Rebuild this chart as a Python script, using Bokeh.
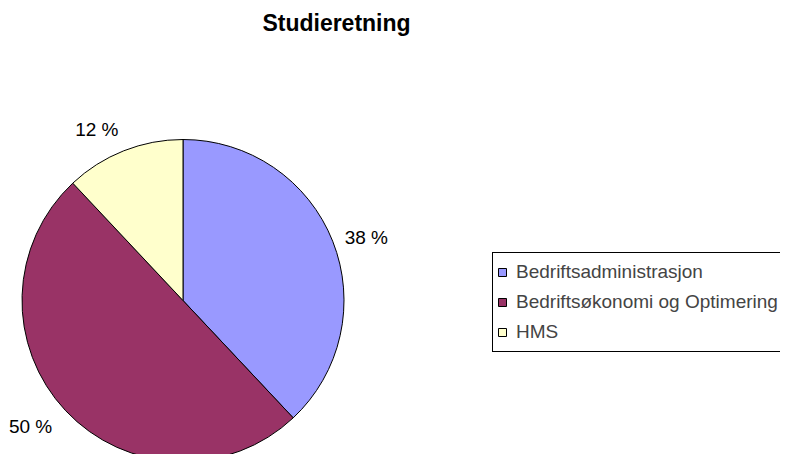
import math
from bokeh.plotting import figure
from bokeh.models import Range1d, Legend, LegendItem, Label, ColumnDataSource
from bokeh.core.properties import value
from bokeh.embed import file_html
from bokeh.resources import INLINE

# Data
categories = ["Bedriftsadministrasjon", "Bedriftsøkonomi og Optimering", "HMS"]
shares = [38, 50, 12]
colors = ["#9999FF", "#993366", "#FFFFCC"]
title_text = "Studieretning"

W, H = 780, 454
p = figure(width=W, height=H, output_backend="svg", toolbar_location=None,
           x_range=Range1d(0, W), y_range=Range1d(-H, 0),
           min_border=0)
p.axis.visible = False
p.grid.visible = False
p.outline_line_color = None
p.background_fill_color = "white"
p.border_fill_color = "white"

cx, cy, r = 182.5, -300.0, 161.0
total = float(sum(shares))
starts, ends = [], []
lx, ly, la, labels = [], [], [], []
cum = 0.0
for s in shares:
    a0 = math.pi / 2 - 2 * math.pi * (cum + s) / total
    a1 = math.pi / 2 - 2 * math.pi * cum / total
    starts.append(a0)
    ends.append(a1)
    mid = (a0 + a1) / 2
    if math.cos(mid) >= 0:
        lr, al = r * 1.06, "left"
    else:
        lr, al = r * 1.14, "right"
    lx.append(cx + lr * math.cos(mid))
    ly.append(cy + lr * math.sin(mid))
    la.append(al)
    labels.append(f"{s} %")
    cum += s

src = ColumnDataSource(dict(start=starts, end=ends, color=colors, name=categories))
wr = p.wedge(x=cx, y=cy, radius=r, start_angle="start", end_angle="end",
             fill_color="color", line_color="black", line_width=1, source=src)

lsrc = ColumnDataSource(dict(x=lx, y=ly, text=labels, align=la))
p.text(x="x", y="y", text="text", text_align="align", text_baseline="middle",
       text_font=value("Liberation Sans"), text_font_size="19px", text_color="black",
       x_offset=3, source=lsrc)

p.add_layout(Label(x=336, y=H - 22, x_units="screen", y_units="screen",
                   text=title_text, text_align="center", text_baseline="middle",
                   text_font="Liberation Sans", text_font_size="23px",
                   text_font_style="bold", text_color="black"))

items = [LegendItem(label=c, renderers=[wr], index=i) for i, c in enumerate(categories)]
legend = Legend(items=items, location=(492, H - 352),
                label_text_font="Liberation Sans", label_text_font_size="19px",
                label_height=30, glyph_height=10, glyph_width=10,
                label_standoff=9, spacing=0, padding=4, margin=0,
                border_line_color="black", border_line_width=1, border_line_alpha=1.0,
                background_fill_color="white", background_fill_alpha=1.0)
p.add_layout(legend, "center")

open("out.html", "w").write(file_html(p, INLINE))
